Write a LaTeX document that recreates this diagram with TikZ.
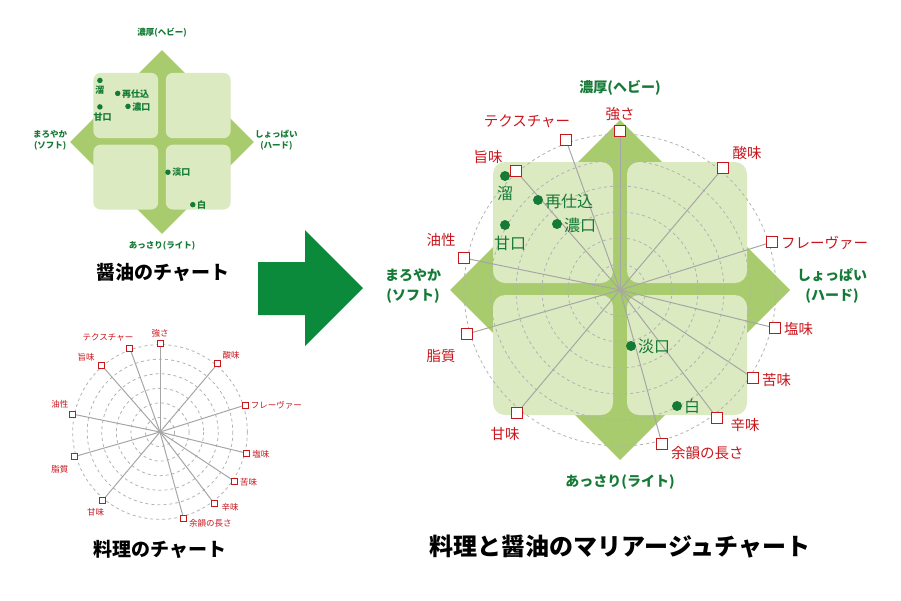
\documentclass[tikz,border=0pt]{standalone}
\usepackage{fontspec}
\setmainfont{Noto Sans CJK JP}
\definecolor{leafgreen}{HTML}{A8CB6E}
\definecolor{palegreen}{HTML}{DCEAC2}
\definecolor{soygreen}{HTML}{157A36}
\definecolor{arrowgreen}{HTML}{0B8A3B}
\definecolor{tastered}{HTML}{C8161D}
\tikzset{
  ring/.style={gray!60, dashed, line width=0.8pt},
  spoke/.style={gray!70, line width=1pt},
  axis/.style={text=soygreen, font=\bfseries\axisfont, align=center},
  tag/.style={text=tastered, font=\tagfont, inner sep=1pt},
  brand/.style={text=soygreen, font=\namefont, inner sep=1pt}
}
% soy sauce chart: diamond, four panels, brands
\newcommand\soybody{%
  \fill[leafgreen] (0,-170) -- (170,0) -- (0,170) -- (-170,0) -- cycle;
  \fill[sq] (-127,-128) rectangle (-7,-7);
  \fill[sq] (7,-128) rectangle (127,-7);
  \fill[sq] (-127,5) rectangle (-7,125);
  \fill[sq] (7,5) rectangle (127,125);
}
\newcommand\soydots{%
  \node[dot] (tamari) at (-115,-114) {};
  \node[brand] (tamaritext) at (-115,-97) {溜};
  \node[dot] (saishikomi) at (-82,-90) {};
  \node[brand, anchor=west] (saishikomitext) at (-76,-89) {再仕込};
  \node[dot] (koikuchi) at (-63,-66) {};
  \node[brand, anchor=west] (koikuchitext) at (-57,-65) {濃口};
  \node[dot] (amakuchi) at (-115,-65) {};
  \node[brand] (amakuchitext) at (-110,-47) {甘口};
  \node[dot] (usukuchi) at (11,56) {};
  \node[brand, anchor=west] (usukuchitext) at (17,56) {淡口};
  \node[dot] (shiro) at (57,116) {};
  \node[brand, anchor=west] (shirotext) at (63,116) {白};
}
\newcommand\soyaxes{%
  \node[axis] (heavy) at (0,-202) {濃厚(ヘビー)};
  \node[axis] (soft) at (-207,-4) {まろやか\\(ソフト)};
  \node[axis] (hard) at (212,-4) {しょっぱい\\(ハード)};
  \node[axis] (light) at (0,192) {あっさり(ライト)};
}
% taste radar: rings, spokes, markers
\newcommand\radarbody{%
  \foreach \r in {26,52,...,156} \draw[ring] (0,0) circle (\r);
  \coordinate (hub) at (0,0);
  \foreach \i/\p/\q in {1/0/-159, 2/-54/-150, 3/-104/-119, 4/103/-122,
                        5/152/-48, 6/-156/-32, 7/-153/44, 8/-103/123,
                        9/42/154, 10/97/128, 11/133/88, 12/155/38} {
    \node[mark box] (m\i) at (\p,\q) {};
    \draw[spoke] (hub) -- (m\i);
  }
  \foreach \i in {1,...,12} \node[mark box] at (m\i) {};
  \node[tag] (t1) at (0,-176) {強さ};
  \node[tag] (t2) at (-93,-169) {テクスチャー};
  \node[tag] (t3) at (-132,-133) {旨味};
  \node[tag] (t4) at (127,-137) {酸味};
  \node[tag, anchor=west] (t5) at (160,-47) {フレーヴァー};
  \node[tag] (t6) at (-179,-50) {油性};
  \node[tag] (t7) at (-179,66) {脂質};
  \node[tag] (t8) at (-115,144) {甘味};
  \node[tag, anchor=west] (t9) at (50,163) {余韻の長さ};
  \node[tag] (t10) at (125,135) {辛味};
  \node[tag, anchor=west] (t11) at (141,90) {苦味};
  \node[tag, anchor=west] (t12) at (163,39) {塩味};
}
\begin{document}
\begin{tikzpicture}[x=1pt, y=-1pt]
  \useasboundingbox (0,0) rectangle (901,600);

  % small soy sauce chart
  \begin{scope}[shift={(162,142)}, scale=0.54,
      sq/.style={fill=palegreen, rounded corners=7pt},
      dot/.style={circle, fill=soygreen, inner sep=0, minimum size=5.5pt},
      mark box/.style={draw=tastered, fill=white, line width=0.8pt, inner sep=0, minimum size=6pt}]
    \def\axisfont{\fontsize{8.5}{11}\selectfont}
    \def\namefont{\fontsize{9}{11}\selectfont\bfseries}
    \soybody
    \soydots
    \soyaxes
  \end{scope}
  \node[font=\bfseries\fontsize{19}{22}\selectfont] (soytitle) at (163,272) {醤油のチャート};

  % small taste radar
  \begin{scope}[shift={(160,432)}, scale=0.56,
      mark box/.style={draw=tastered, fill=white, line width=0.8pt, inner sep=0, minimum size=6pt}]
    \def\tagfont{\fontsize{8.5}{10}\selectfont}
    \radarbody
  \end{scope}
  \node[font=\bfseries\fontsize{19}{22}\selectfont] (dishtitle) at (160,549) {料理のチャート};

  % big arrow
  \fill[arrowgreen] (258,262) -- (305,262) -- (305,230) -- (363,288)
    -- (305,346) -- (305,315) -- (258,315) -- cycle;

  % combined chart
  \begin{scope}[shift={(620,290)},
      sq/.style={fill=palegreen, rounded corners=12pt},
      dot/.style={circle, fill=soygreen, inner sep=0, minimum size=10pt},
      mark box/.style={draw=tastered, fill=white, line width=1pt, inner sep=0, minimum size=11pt}]
    \def\axisfont{\fontsize{14}{20}\selectfont}
    \def\namefont{\fontsize{16}{18}\selectfont}
    \def\tagfont{\fontsize{14.5}{17}\selectfont}
    \soybody
    \radarbody
    \soydots
    \soyaxes
  \end{scope}
  \node[font=\bfseries\fontsize{24}{28}\selectfont] (mariagetitle) at (620,547) {料理と醤油のマリアージュチャート};
\end{tikzpicture}
\end{document}
